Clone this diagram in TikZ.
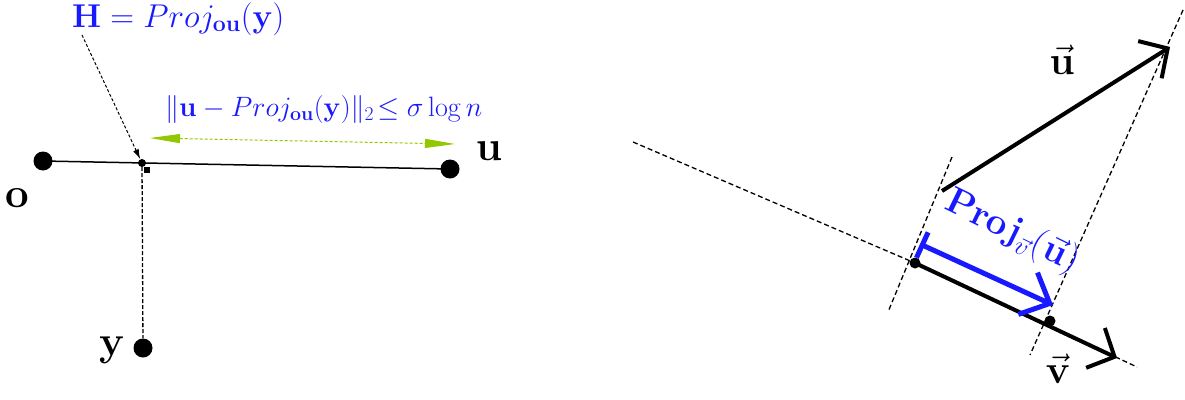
\RequirePackage{fix-cm}
\documentclass[tikz,border=0pt]{standalone}
\usetikzlibrary{arrows.meta}
\definecolor{projblue}{RGB}{25,25,255}
\definecolor{grn}{RGB}{145,200,0}
\begin{document}
\begin{tikzpicture}[x=1pt,y=-1pt,
  bigdot/.style={circle,fill=black,inner sep=0pt,minimum size=19pt},
  smalldot/.style={circle,fill=black,inner sep=0pt,minimum size=9pt},
  ptlabel/.style={font=\fontsize{42}{48}\selectfont,inner sep=0pt},
  veclabel/.style={font=\fontsize{40}{46}\selectfont,inner sep=0pt},
  bluelabel/.style={text=projblue,inner sep=0pt},
  guide/.style={dash pattern=on 5pt off 3pt,line width=1.3pt},
  thinguide/.style={dash pattern=on 3pt off 2pt,line width=1pt},
  vecline/.style={line width=4pt,-{Straight Barb[length=21pt,width=44pt]}},
  projline/.style={projblue,line width=5pt,{Bar[width=28pt]}-{Straight Barb[length=24pt,width=46pt]}}]
\useasboundingbox (0,0) rectangle (1185,399);

% ---------------- left diagram ----------------
\node[bigdot] (o) at (43,161) {};
\node[bigdot] (u) at (450,169) {};
\node[bigdot] (y) at (143,348) {};
\node[smalldot,minimum size=8pt] (H) at (142,163) {};
\node[fill=black,minimum size=6pt,inner sep=0pt] (Hsq) at (147,170) {};
\draw[line width=1.5pt] (o.center) -- (u.center);
\draw[guide,dash pattern=on 4pt off 2pt] (H) -- (y);

\coordinate (Hl) at (82,35);
\draw[thinguide,-{Latex[length=10pt,width=6pt]}] (Hl) -- (H);

\coordinate (gL) at (150,138);
\coordinate (gR) at (455,144);
\draw[grn,thinguide,{Triangle[length=30pt,width=9pt]}-{Triangle[length=30pt,width=9pt]}] (gL) -- (gR);

\node[ptlabel] (ol) at (17,198) {$\mathbf{o}$};
\node[ptlabel] (ul) at (489,151) {$\mathbf{u}$};
\node[ptlabel] (yl) at (112,350) {$\mathbf{y}$};

\node[bluelabel,anchor=base west,font=\fontsize{33}{38}\selectfont] (Hlab) at (72,27)
  {$\mathbf{H}=Proj_{\mathbf{ou}}(\mathbf{y})$};
\node[bluelabel,anchor=base west,font=\fontsize{28}{33}\selectfont] (dlab) at (165,116)
  {$\|\mathbf{u}-Proj_{\mathbf{ou}}(\mathbf{y})\|_2\!\le\sigma\log n$};

% ---------------- right diagram ----------------
\coordinate (L0) at (633,142);
\coordinate (L1) at (1137,367);
\coordinate (P0) at (952,157);
\coordinate (P1) at (888,312);
\coordinate (Q0) at (1183,10);
\coordinate (Q1) at (1030,355);
\coordinate (U0) at (942,191);
\coordinate (U1) at (1170,47);
\coordinate (V1) at (1117,358);
\coordinate (b0) at (920,244);
\coordinate (b1) at (1053,305);

\node[smalldot,minimum size=11pt] (A) at (915,263) {};
\node[smalldot,minimum size=11pt] (B) at (1050,321) {};

\draw[guide] (L0) -- (A.center) -- (L1);
\draw[guide] (P0) -- (P1);
\draw[guide] (Q0) -- (Q1);

\draw[vecline] (U0) -- (U1);
\draw[vecline] (A.center) -- (V1);
\draw[projline] (b0) -- (b1);

\node[veclabel] (uvec) at (1062,60) {$\vec{\mathbf{u}}$};
\node[veclabel] (vvec) at (1058,369) {$\vec{\mathbf{v}}$};
\node[bluelabel,rotate=-26,font=\fontsize{37}{42}\selectfont] (plab) at (1012,232)
  {$\mathbf{Proj}_{\vec{v}}(\vec{\mathbf{u}})$};
\end{tikzpicture}
\end{document}
